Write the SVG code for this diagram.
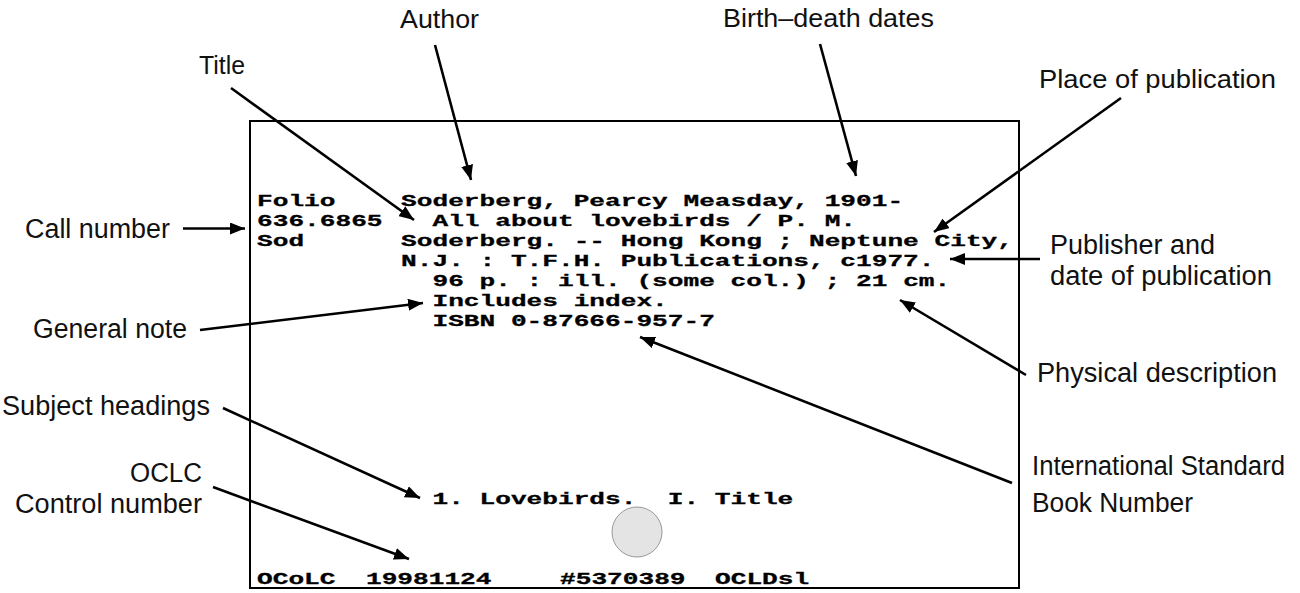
<svg xmlns="http://www.w3.org/2000/svg" width="1300" height="593" viewBox="0 0 1300 593">
  <style>
    .lbl { font-family: "Liberation Sans", Arial, sans-serif; font-size: 27px; fill: #111; }
    .top { font-size: 25px; }
    .card { fill: #fff; stroke: #000; stroke-width: 2; }
    .mono { font-family: "Liberation Mono", "Courier New", monospace; font-weight: bold; font-size: 17px; fill: #000; stroke: #000; stroke-width: 0.3; }
    .arrow { stroke: #000; stroke-width: 2.6; fill: none; marker-end: url(#head); }
  </style>
  <defs>
    <marker id="head" markerUnits="userSpaceOnUse" markerWidth="16" markerHeight="12" refX="15" refY="6" orient="auto">
      <path d="M0,0 L15,6 L0,12 z" fill="#000"/>
    </marker>
  </defs>
  <rect width="1300" height="593" fill="#fff"/>

  <!-- catalog card; monospace lines stretched to a 15.7px character pitch -->
  <g id="card">
    <rect class="card" x="250" y="121" width="769" height="467"/>
    <g transform="scale(1.539 1)">
      <text class="mono" x="167" y="206.5">Folio</text>
      <text class="mono" x="167" y="226">636.6865</text>
      <text class="mono" x="167" y="246">Sod</text>
      <text class="mono" x="260.6" y="206.5">Soderberg, Pearcy Measday, 1901-</text>
      <text class="mono" x="281" y="226">All about lovebirds / P. M.</text>
      <text class="mono" x="260.6" y="246">Soderberg. -- Hong Kong ; Neptune City,</text>
      <text class="mono" x="260.6" y="266">N.J. : T.F.H. Publications, c1977.</text>
      <text class="mono" x="281" y="286">96 p. : ill. (some col.) ; 21 cm.</text>
      <text class="mono" x="281" y="306">Includes index.</text>
      <text class="mono" x="281" y="326">ISBN 0-87666-957-7</text>
      <text class="mono" x="281" y="504" xml:space="preserve">1. Lovebirds.  I. Title</text>
      <text class="mono" x="167" y="584">OCoLC</text>
      <text class="mono" x="237.8" y="584">19981124</text>
      <text class="mono" x="363.9" y="584">#5370389</text>
      <text class="mono" x="464.6" y="584">OCLDsl</text>
    </g>
    <circle cx="637" cy="532" r="25" fill="#e4e4e4" stroke="#999" stroke-width="1"/>
  </g>

  <!-- labels -->
  <g id="label-author"><text class="lbl top" x="400" y="28" textLength="79" lengthAdjust="spacingAndGlyphs">Author</text></g>
  <g id="label-birth-death"><text class="lbl top" x="723" y="27" textLength="211" lengthAdjust="spacingAndGlyphs">Birth–death dates</text></g>
  <g id="label-title"><text class="lbl top" x="199" y="74" textLength="46" lengthAdjust="spacingAndGlyphs">Title</text></g>
  <g id="label-place"><text class="lbl top" x="1039" y="88" textLength="237" lengthAdjust="spacingAndGlyphs">Place of publication</text></g>
  <g id="label-call"><text class="lbl" x="25" y="238" textLength="145" lengthAdjust="spacingAndGlyphs">Call number</text></g>
  <g id="label-publisher">
    <text class="lbl" x="1050" y="254" textLength="165" lengthAdjust="spacingAndGlyphs">Publisher and</text>
    <text class="lbl" x="1050" y="285" textLength="222" lengthAdjust="spacingAndGlyphs">date of publication</text>
  </g>
  <g id="label-general"><text class="lbl" x="33" y="338" textLength="154" lengthAdjust="spacingAndGlyphs">General note</text></g>
  <g id="label-physical"><text class="lbl" x="1037" y="382" textLength="240" lengthAdjust="spacingAndGlyphs">Physical description</text></g>
  <g id="label-subject"><text class="lbl" x="2" y="415" textLength="208" lengthAdjust="spacingAndGlyphs">Subject headings</text></g>
  <g id="label-oclc">
    <text class="lbl" x="130" y="482" textLength="72" lengthAdjust="spacingAndGlyphs">OCLC</text>
    <text class="lbl" x="15" y="513" textLength="187" lengthAdjust="spacingAndGlyphs">Control number</text>
  </g>
  <g id="label-isbn">
    <text class="lbl" x="1032" y="475" textLength="253" lengthAdjust="spacingAndGlyphs">International Standard</text>
    <text class="lbl" x="1032" y="512" textLength="161" lengthAdjust="spacingAndGlyphs">Book Number</text>
  </g>

  <!-- leader arrows -->
  <g id="connectors">
    <line class="arrow" x1="183" y1="228.5" x2="245" y2="228.5"/>
    <line class="arrow" x1="231" y1="88" x2="414" y2="220"/>
    <line class="arrow" x1="435" y1="45" x2="471" y2="180"/>
    <line class="arrow" x1="820" y1="44" x2="856" y2="176"/>
    <line class="arrow" x1="1121" y1="98" x2="934" y2="232"/>
    <line class="arrow" x1="1040" y1="259" x2="950" y2="259"/>
    <line class="arrow" x1="200" y1="330" x2="423" y2="303"/>
    <line class="arrow" x1="1026" y1="375" x2="900" y2="300"/>
    <line class="arrow" x1="1012" y1="483" x2="640" y2="337"/>
    <line class="arrow" x1="223" y1="408" x2="420" y2="498"/>
    <line class="arrow" x1="213" y1="487" x2="409" y2="559"/>
  </g>
</svg>
